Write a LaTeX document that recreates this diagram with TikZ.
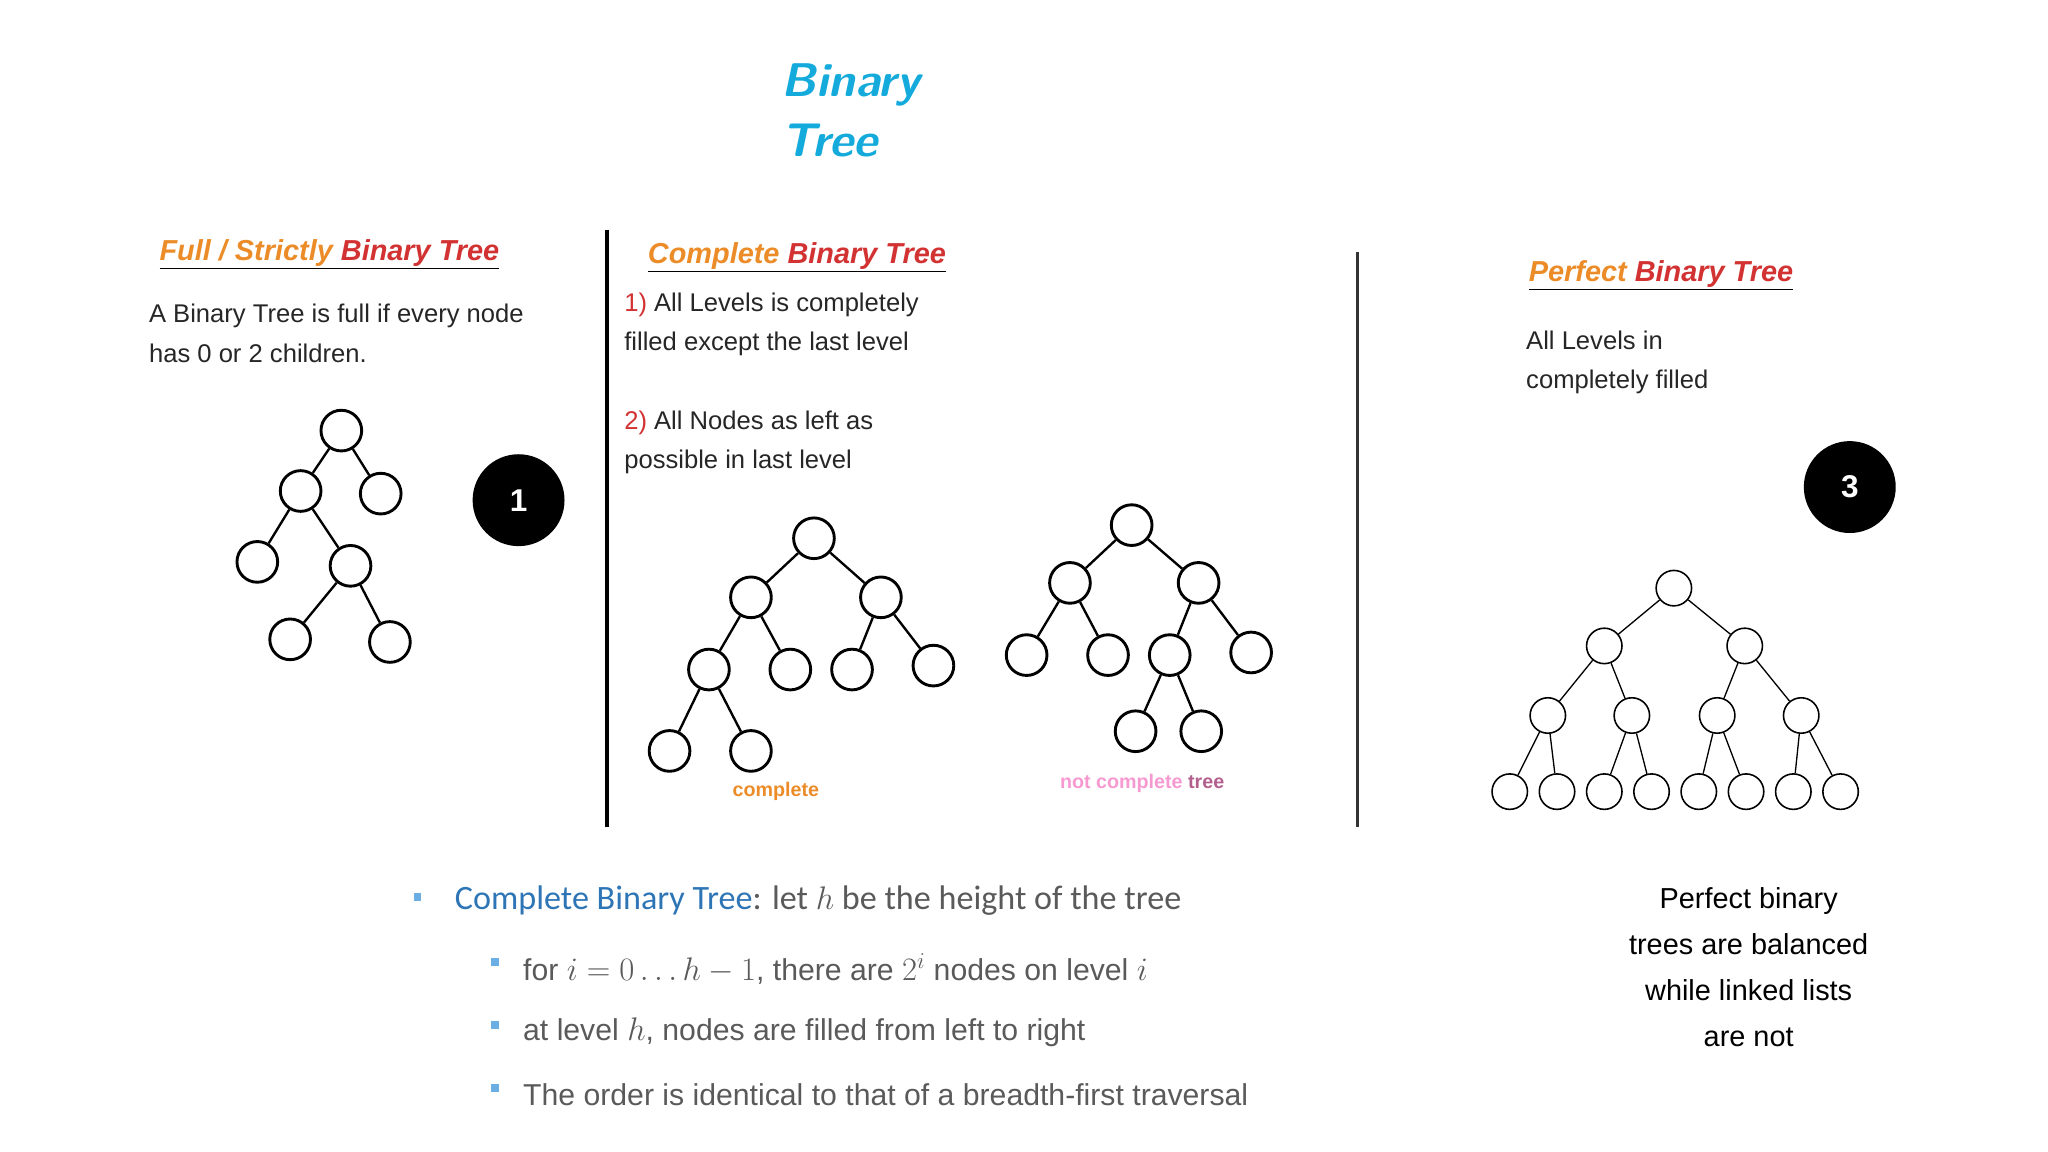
\documentclass[tikz,border=0pt]{standalone}
\usepackage{fontspec}
\setmainfont{Liberation Sans}
\newfontfamily\carl{Carlito}
\begin{document}
\begin{tikzpicture}[x=1pt,y=-1pt,
  tn/.style={circle,draw,line width=2.2pt,minimum size=31pt,inner sep=0pt},
  pn/.style={circle,draw,line width=1.2pt,minimum size=27pt,inner sep=0pt},
  ed/.style={line width=1.8pt},
  pe/.style={line width=1pt},
  badge/.style={circle,fill=black,text=white,minimum size=70pt,font=\fontsize{24}{28}\selectfont\bfseries},
  hd/.style={anchor=west,font=\fontsize{22}{26}\selectfont\itshape\bfseries},
  bt/.style={anchor=west,font=\fontsize{19.5}{30}\selectfont,text=black!85,align=left},
  sb/.style={fill=cyan!70!blue!60,minimum size=6pt,inner sep=0pt}]
\useasboundingbox (0,0) rectangle (1560,877.5);
\definecolor{ttl}{RGB}{20,170,220}
\definecolor{org}{RGB}{235,140,40}
\definecolor{rd}{RGB}{210,50,50}
\definecolor{blu}{RGB}{46,117,182}
\definecolor{gry}{RGB}{90,90,90}
\node[anchor=west,text=ttl,align=left,font=\fontsize{36}{46}\selectfont\sffamily\bfseries\itshape] (title) at (592,84) {Binary\\Tree};
\coordinate (l1a) at (462,175); \coordinate (l1b) at (462,630);
\coordinate (l2a) at (1034,192); \coordinate (l2b) at (1034,630);
\draw[line width=3pt] (l1a)--(l1b);
\draw[line width=3pt,black!80] (l2a)--(l2b);
% headings
\node[hd] (h1) at (118,194) {\underline{\textcolor{org}{Full / Strictly} \textcolor{rd}{Binary Tree}}};
\node[hd] (h2) at (490,196) {\underline{\textcolor{org}{Complete} \textcolor{rd}{Binary Tree}}};
\node[hd] (h3) at (1161,210) {\underline{\textcolor{org}{Perfect} \textcolor{rd}{Binary Tree}}};
\node[bt] (t1) at (110,254) {A Binary Tree is full if every node\\has 0 or 2 children.};
\node[bt] (t2) at (472,247) {\textcolor{rd}{1)} All Levels is completely\\filled except the last level};
\node[bt] (t3) at (472,337) {\textcolor{rd}{2)} All Nodes as left as\\possible in last level};
\node[bt] (t4) at (1159,276) {All Levels in\\completely filled};
% tree 1
\node[tn] (a0) at (260,328) {}; \node[tn] (a1) at (229,374) {}; \node[tn] (a2) at (290,376) {};
\node[tn] (a3) at (196,428) {}; \node[tn] (a4) at (267,431) {};
\node[tn] (a5) at (221,487) {}; \node[tn] (a6) at (297,489) {};
\draw[ed] (a0)--(a1) (a0)--(a2) (a1)--(a3) (a1)--(a4) (a4)--(a5) (a4)--(a6);
\node[badge] (b1) at (395,381) {1};
% complete tree
\node[tn] (c0) at (620,410) {}; \node[tn] (c1) at (572,455) {}; \node[tn] (c2) at (671,455) {};
\node[tn] (c3) at (540,510) {}; \node[tn] (c4) at (602,510) {}; \node[tn] (c5) at (649,510) {}; \node[tn] (c6) at (711,507) {};
\node[tn] (c7) at (510,572) {}; \node[tn] (c8) at (572,572) {};
\draw[ed] (c0)--(c1) (c0)--(c2) (c1)--(c3) (c1)--(c4) (c2)--(c5) (c2)--(c6) (c3)--(c7) (c3)--(c8);
\node[text=org,font=\fontsize{15}{18}\selectfont\bfseries] (cl) at (591,603) {complete};
% not complete
\node[tn] (n0) at (862,400) {}; \node[tn] (n1) at (815,444) {}; \node[tn] (n2) at (913,444) {};
\node[tn] (n3) at (782,499) {}; \node[tn] (n4) at (844,499) {}; \node[tn] (n5) at (891,499) {}; \node[tn] (n6) at (953,497) {};
\node[tn] (n7) at (865,557) {}; \node[tn] (n8) at (915,557) {};
\draw[ed] (n0)--(n1) (n0)--(n2) (n1)--(n3) (n1)--(n4) (n2)--(n5) (n2)--(n6) (n5)--(n7) (n5)--(n8);
\node[font=\fontsize{15}{18}\selectfont\bfseries] (nl) at (870,597) {\textcolor{magenta!40}{not complete} \textcolor{magenta!60!black!80}{tree}};
% perfect
\node[pn] (p0) at (1275,448) {}; \node[pn] (p1) at (1222,492) {}; \node[pn] (p2) at (1329,492) {};
\node[pn] (p3) at (1179,545) {}; \node[pn] (p4) at (1243,545) {}; \node[pn] (p5) at (1308,545) {}; \node[pn] (p6) at (1372,545) {};
\foreach \i/\x in {1/1150,2/1186,3/1222,4/1258,5/1294,6/1330,7/1366,8/1402} \node[pn] (q\i) at (\x,603) {};
\draw[pe] (p0)--(p1) (p0)--(p2) (p1)--(p3) (p1)--(p4) (p2)--(p5) (p2)--(p6)
 (p3)--(q1) (p3)--(q2) (p4)--(q3) (p4)--(q4) (p5)--(q5) (p5)--(q6) (p6)--(q7) (p6)--(q8);
\node[badge] (b3) at (1409,371) {3};
% bullets
\node[sb] (s0) at (318,683) {};
\node[anchor=west,font=\carl\fontsize{26}{30}\selectfont,text=gry] (m0) at (343,686) {\textcolor{blu}{Complete Binary Tree}: let $h$ be the height of the tree};
\node[sb] (s1) at (377,733) {}; \node[sb] (s2) at (377,781) {}; \node[sb] (s3) at (377,829) {};
\node[anchor=west,font=\fontsize{23}{28}\selectfont,text=gry] (m1) at (395,738) {for $i=0\ldots h-1$, there are $2^i$ nodes on level $i$};
\node[anchor=west,font=\fontsize{23}{28}\selectfont,text=gry] (m2) at (395,786) {at level $h$, nodes are filled from left to right};
\node[anchor=west,font=\fontsize{23}{28}\selectfont,text=gry] (m3) at (395,834) {The order is identical to that of a breadth-first traversal};
\node[align=center,font=\fontsize{22}{35}\selectfont] (rt) at (1332,737) {Perfect binary\\trees are balanced\\while linked lists\\are not};
\end{tikzpicture}
\end{document}
